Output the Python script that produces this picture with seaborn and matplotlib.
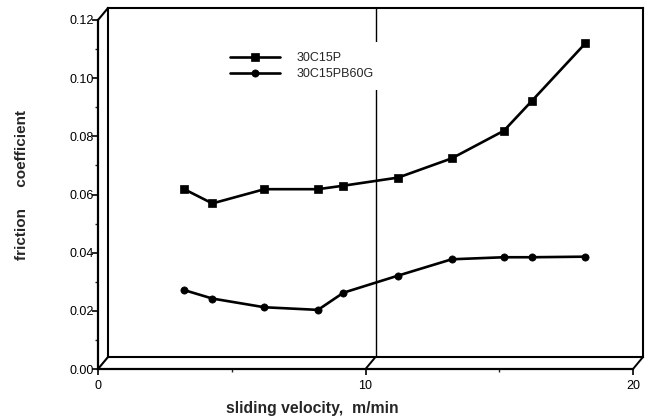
import numpy as np
import pandas as pd
import matplotlib
matplotlib.use("Agg")
import matplotlib.pyplot as plt
from matplotlib.lines import Line2D
from matplotlib.ticker import MultipleLocator, FixedLocator
import seaborn as sns

# ---- data ----
velocity = [2.85, 3.9, 5.85, 7.85, 8.8, 10.85, 12.85, 14.8, 15.85, 17.85]
mu_30C15P = [0.0577, 0.0528, 0.0577, 0.0577, 0.0589, 0.0617, 0.0683, 0.0778, 0.0881, 0.1079]
mu_30C15PB60G = [0.0230, 0.0201, 0.0171, 0.0162, 0.0221, 0.0280, 0.0336, 0.0343, 0.0343, 0.0345]
series_names = ["30C15P", "30C15PB60G"]
x_ticks = [0, 10, 20]
y_ticks = [0.00, 0.02, 0.04, 0.06, 0.08, 0.10, 0.12]
y_ticklabels = ["0.00", "0.02", "0.04", "0.06", "0.08", "0.10", "0.12"]

sns.set_style("white")
plt.rcParams["font.family"] = ["Liberation Sans", "DejaVu Sans"]

W, H = 649, 418
fig = plt.figure(figsize=(W / 100, H / 100), dpi=100)

def fx(px):
    return px / W

def fy(py):
    return 1 - py / H

# back wall (data plane)
bx0, by0, bx1, by1 = 108, 357, 643, 8
ax = fig.add_axes([fx(bx0), fy(by0), fx(bx1) - fx(bx0), fy(by1) - fy(by0)])
# front axes (labels / ticks)
dx, dy = -10, 12
ax2 = fig.add_axes([fx(bx0 + dx), fy(by0 + dy), fx(bx1) - fx(bx0), fy(by1) - fy(by0)])

df = pd.DataFrame({"v": velocity, "a": mu_30C15P, "b": mu_30C15PB60G})
sns.lineplot(data=df, x="v", y="a", ax=ax, color="black", marker="s",
             markersize=6, linewidth=1.9, label=series_names[0],
             markeredgecolor="black", markeredgewidth=0.5)
sns.lineplot(data=df, x="v", y="b", ax=ax, color="black", marker="o",
             markersize=5.2, linewidth=1.9, label=series_names[1],
             markeredgecolor="black", markeredgewidth=0.5)
ax.axvline(10, color="black", linewidth=1.0, zorder=0.5)

ax.set_xlim(0, 20)
ax.set_ylim(0, 0.12)
ax.set_xticks([])
ax.set_yticks([])
ax.set_xlabel("")
ax.set_ylabel("")
for s in ax.spines.values():
    s.set_visible(True)
    s.set_linewidth(1.5)
    s.set_color("black")

leg = ax.legend(loc="upper left", bbox_to_anchor=(fx(220), fy(42)),
                bbox_transform=fig.transFigure, frameon=True, fontsize=9,
                handlelength=4.0, handletextpad=1.3, labelspacing=0.35,
                borderpad=0.8, borderaxespad=0)
leg.get_frame().set_facecolor("white")
leg.get_frame().set_edgecolor("none")
leg.get_frame().set_alpha(1)

# front axes styling
ax2.patch.set_visible(False)
ax2.set_xlim(0, 20)
ax2.set_ylim(0, 0.12)
for side in ["top", "right"]:
    ax2.spines[side].set_visible(False)
for side in ["left", "bottom"]:
    ax2.spines[side].set_linewidth(1.6)
    ax2.spines[side].set_color("black")
ax2.xaxis.set_major_locator(FixedLocator(x_ticks))
ax2.xaxis.set_minor_locator(MultipleLocator(5))
ax2.set_yticks(y_ticks)
ax2.set_yticklabels(y_ticklabels)
ax2.yaxis.set_minor_locator(MultipleLocator(0.01))
ax2.tick_params(axis="both", which="major", direction="out", length=4, width=1.2,
                labelsize=9, colors="black", left=True, bottom=True)
ax2.tick_params(axis="both", which="minor", direction="out", length=2.5, width=1.0,
                left=True, bottom=True)
ax2.tick_params(axis="y", which="major", pad=-1)
ax2.tick_params(axis="x", which="major", pad=4)

# 3D box connectors
def seg(x0, y0, x1, y1, lw=1.5):
    fig.add_artist(Line2D([fx(x0), fx(x1)], [fy(y0), fy(y1)], transform=fig.transFigure,
                          color="black", linewidth=lw))

fb = by0 + dy
seg(bx0 + dx, fb, bx0, by0)
seg(bx0 + dx, by1 + dy, bx0, by1)
for t in x_ticks[1:]:
    xp = bx0 + (bx1 - bx0) * t / 20
    seg(xp + dx, fb, xp, by0, lw=1.4)

fig.text(fx(312), fy(408), "sliding velocity,  m/min", ha="center", va="center",
         fontsize=11.3, fontweight="bold")
fig.text(fx(22), fy(185), "friction     coefficient", ha="center", va="center",
         rotation=90, fontsize=11, fontweight="bold")

fig.savefig("out.png", dpi=100)
